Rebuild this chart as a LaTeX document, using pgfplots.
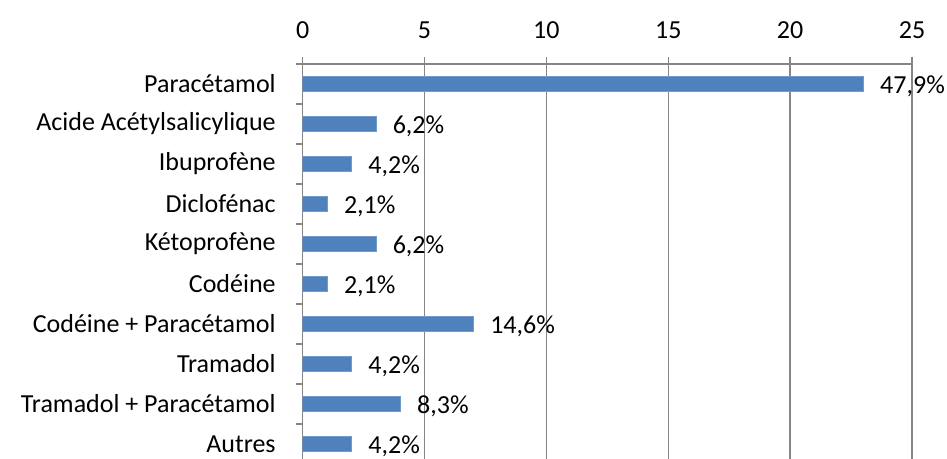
\documentclass[border=0pt]{standalone}
\usepackage{fontspec}
\setmainfont{Carlito}
\usepackage{pgfplots}
\pgfplotsset{compat=1.18}
\definecolor{barblue}{HTML}{4F81BD}
\definecolor{gridgray}{HTML}{868686}
\begin{document}
\fontsize{13pt}{15pt}\selectfont
\begin{tikzpicture}
\begin{axis}[
 at={(0,0)}, anchor=south west,
 scale only axis, width=304.65pt, height=200pt,
 xbar, bar width=7.5pt,
 xmin=0, xmax=25, xtick={0,5,...,25},
 ymin=-0.5, ymax=9.5,
 axis x line*=top, axis y line*=left,
 axis line style={-, gridgray, line width=0.75pt},
 tick align=outside, major tick length=3.25pt,
 tick style={gridgray, line width=0.75pt},
 xmajorgrids, major x grid style={gridgray, line width=0.75pt},
 ytick={-0.5,0.5,...,9.5}, yticklabels={},
 extra y ticks={0,1,2,3,4,5,6,7,8,9},
 extra y tick labels={Autres,Tramadol + Paracétamol,Tramadol,Codéine + Paracétamol,Codéine,Kétoprofène,Diclofénac,Ibuprofène,Acide Acétylsalicylique,Paracétamol},
 extra y tick style={major tick length=0pt, tick style={draw=none}},
 tick label style={font=\fontsize{13pt}{15pt}\selectfont, text=black},
 /pgf/number format/assume math mode=true,
 xticklabel style={yshift=5pt},
 yticklabel style={xshift=-9pt},
 point meta=explicit symbolic,
 nodes near coords={\pgfplotspointmeta\%},
 every node near coord/.append style={anchor=west, xshift=4pt, yshift=-1.2pt, text=black, font=\fontsize{13pt}{15pt}\selectfont},
]
\addplot[fill=barblue, draw=barblue!80!white, line width=0.3pt] table[x=x, y=y, meta=lab] {
x y lab
23 9 47,9
3 8 6,2
2 7 4,2
1 6 2,1
3 5 6,2
1 4 2,1
7 3 14,6
2 2 4,2
4 1 8,3
2 0 4,2
};
\end{axis}
\pgfresetboundingbox
\path (-151.35pt,2.5pt) rectangle (322.15pt,232pt);
\end{tikzpicture}
\end{document}
